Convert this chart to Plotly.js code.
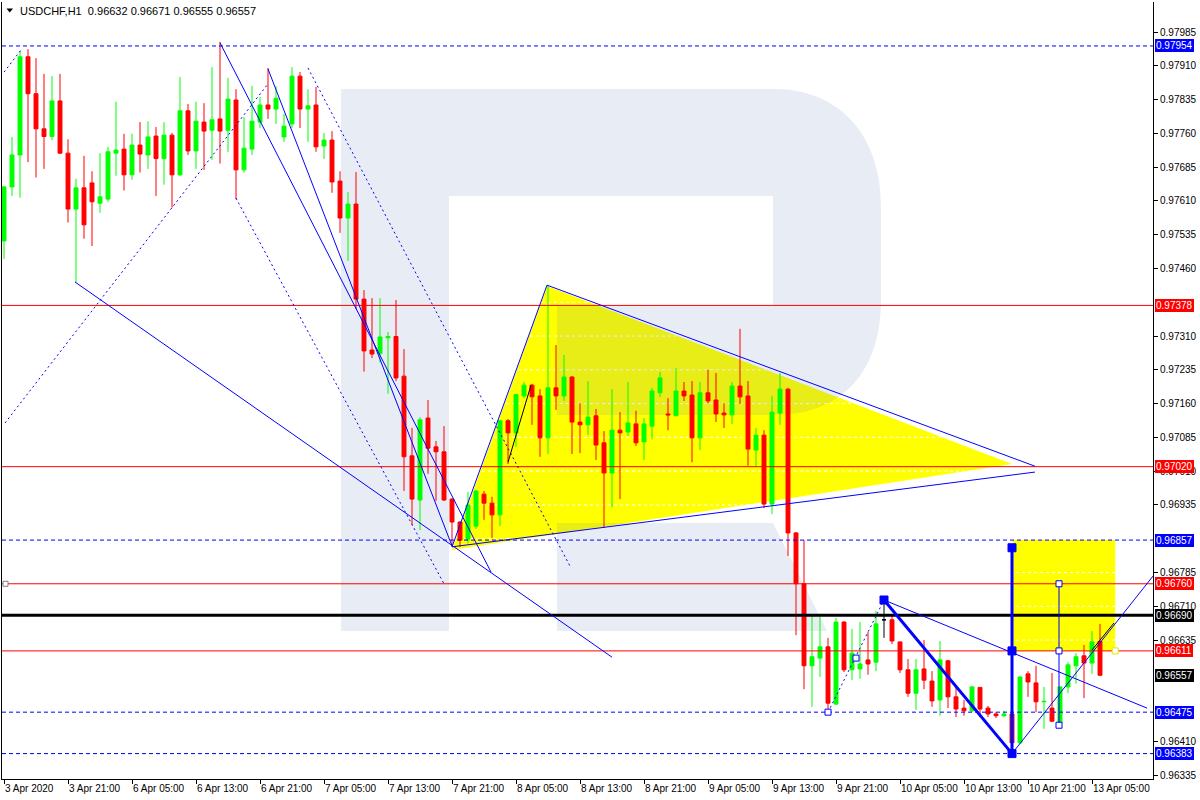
<!DOCTYPE html>
<html>
<head>
<meta charset="utf-8">
<script src="https://cdn.plot.ly/plotly-3.0.1.min.js"></script>
<style>
html,body{margin:0;padding:0;background:#ffffff;}
#chart{width:1200px;height:800px;}
</style>
</head>
<body>
<div id="chart"></div>
<script>
// ---------------- DATA (USDCHF, H1) ----------------
const symbolTitle = 'USDCHF,H1';
const openP = [
0.97521,0.97641,0.97712,0.97930,0.97848,0.97770,0.97753,0.97832,0.97716,0.97592,
0.97639,0.97650,0.97605,0.97614,0.97716,0.97725,0.97668,0.97734,0.97712,0.97754,
0.97704,0.97756,0.97668,0.97810,0.97721,0.97785,0.97767,0.97792,0.97767,0.97834,
0.97679,0.97725,0.97785,0.97823,0.97814,0.97752,0.97781,0.97887,0.97814,0.97823,
0.97732,0.97745,0.97654,0.97572,0.97603,0.97392,0.97279,0.97271,0.97306,0.97309,
0.97221,0.97044,0.96946,0.97128,0.97064,0.97053,0.96948,0.96897,0.96859,0.96888,
0.96959,0.96939,0.96913,0.97122,0.97095,0.97177,0.97201,0.97177,0.97084,0.97195,
0.97177,0.97219,0.97119,0.97113,0.97133,0.97073,0.97006,0.97101,0.97097,0.97115,
0.97075,0.97110,0.97184,0.97137,0.97133,0.97188,0.97179,0.97084,0.97184,0.97168,
0.97139,0.97135,0.97199,0.97177,0.97057,0.97090,0.96937,0.97139,0.97192,0.96873,
0.96760,0.96578,0.96595,0.96620,0.96493,0.96675,0.96569,0.96571,0.96591,0.96586,
0.96680,0.96680,0.96631,0.96569,0.96517,0.96571,0.96544,0.96502,0.96589,0.96509,
0.96484,0.96478,0.96530,0.96484,0.96471,0.96467,0.96471,0.96407,0.96560,0.96540,
0.96498,0.96484,0.96449,0.96531,0.96578,0.96600,0.96584,0.96632];
const highP = [
0.97643,0.97752,0.97943,0.97947,0.97927,0.97892,0.97887,0.97892,0.97747,0.97659,
0.97710,0.97676,0.97716,0.97730,0.97830,0.97759,0.97759,0.97785,0.97787,0.97774,
0.97785,0.97761,0.97885,0.97825,0.97830,0.97827,0.97907,0.97963,0.97883,0.97858,
0.97796,0.97865,0.97841,0.97905,0.97865,0.97803,0.97907,0.97896,0.97858,0.97863,
0.97761,0.97765,0.97676,0.97630,0.97674,0.97412,0.97394,0.97394,0.97319,0.97390,
0.97281,0.97106,0.97130,0.97168,0.97077,0.97110,0.96950,0.96899,0.96964,0.96968,
0.96966,0.96953,0.97124,0.97126,0.97181,0.97208,0.97204,0.97192,0.97423,0.97290,
0.97268,0.97221,0.97161,0.97210,0.97148,0.97099,0.97192,0.97141,0.97208,0.97144,
0.97128,0.97195,0.97230,0.97172,0.97239,0.97208,0.97210,0.97208,0.97235,0.97228,
0.97161,0.97208,0.97326,0.97210,0.97106,0.97101,0.97177,0.97228,0.97195,0.96875,
0.96857,0.96693,0.96693,0.96640,0.96684,0.96677,0.96660,0.96675,0.96653,0.96700,
0.96724,0.96689,0.96631,0.96593,0.96593,0.96635,0.96566,0.96633,0.96591,0.96531,
0.96502,0.96533,0.96531,0.96489,0.96475,0.96478,0.96472,0.96555,0.96566,0.96578,
0.96531,0.96562,0.96532,0.96586,0.96606,0.96624,0.96655,0.96671];
const lowP = [
0.97481,0.97621,0.97617,0.97696,0.97662,0.97681,0.97745,0.97714,0.97562,0.97429,
0.97526,0.97510,0.97584,0.97608,0.97666,0.97633,0.97657,0.97673,0.97681,0.97621,
0.97646,0.97595,0.97665,0.97712,0.97681,0.97679,0.97701,0.97693,0.97719,0.97614,
0.97673,0.97712,0.97772,0.97792,0.97781,0.97741,0.97772,0.97772,0.97741,0.97719,
0.97703,0.97628,0.97539,0.97477,0.97370,0.97231,0.97261,0.97251,0.97182,0.97210,
0.96966,0.96891,0.96879,0.97004,0.96944,0.96944,0.96842,0.96842,0.96850,0.96882,
0.96902,0.96862,0.96888,0.97026,0.97064,0.97172,0.97113,0.97042,0.97048,0.97146,
0.97166,0.97048,0.97050,0.97090,0.97035,0.96884,0.96930,0.96948,0.97088,0.97066,
0.97035,0.97081,0.97175,0.97101,0.97133,0.97166,0.97030,0.97057,0.97161,0.97119,
0.97106,0.97115,0.97159,0.97022,0.97019,0.96928,0.96915,0.97113,0.96822,0.96646,
0.96526,0.96487,0.96553,0.96475,0.96490,0.96564,0.96546,0.96549,0.96558,0.96566,
0.96640,0.96626,0.96562,0.96509,0.96480,0.96526,0.96487,0.96467,0.96484,0.96464,
0.96467,0.96475,0.96464,0.96464,0.96462,0.96464,0.96383,0.96404,0.96509,0.96475,
0.96438,0.96453,0.96446,0.96517,0.96538,0.96506,0.96560,0.96555];
const closeP = [
0.97641,0.97712,0.97930,0.97848,0.97770,0.97753,0.97832,0.97716,0.97592,0.97639,
0.97557,0.97608,0.97619,0.97719,0.97723,0.97668,0.97734,0.97714,0.97752,0.97704,
0.97756,0.97668,0.97810,0.97721,0.97787,0.97765,0.97790,0.97765,0.97836,0.97679,
0.97727,0.97787,0.97823,0.97814,0.97838,0.97776,0.97887,0.97814,0.97821,0.97730,
0.97745,0.97652,0.97572,0.97603,0.97392,0.97277,0.97270,0.97308,0.97309,0.97217,
0.97042,0.96948,0.97124,0.97061,0.97053,0.96946,0.96897,0.96857,0.96935,0.96966,
0.96939,0.96913,0.97122,0.97095,0.97180,0.97201,0.97175,0.97084,0.97195,0.97177,
0.97219,0.97119,0.97113,0.97130,0.97068,0.97006,0.97101,0.97095,0.97117,0.97073,
0.97115,0.97188,0.97217,0.97135,0.97188,0.97177,0.97084,0.97184,0.97166,0.97137,
0.97135,0.97199,0.97175,0.97059,0.97090,0.96937,0.97141,0.97192,0.96873,0.96760,
0.96578,0.96598,0.96620,0.96495,0.96675,0.96569,0.96606,0.96582,0.96582,0.96671,
0.96680,0.96633,0.96569,0.96517,0.96569,0.96546,0.96500,0.96591,0.96509,0.96482,
0.96478,0.96531,0.96482,0.96471,0.96467,0.96471,0.96407,0.96553,0.96542,0.96498,
0.96499,0.96455,0.96531,0.96580,0.96598,0.96584,0.96631,0.96557];

const timeTickBars = [0,8,16,24,32,40,48,56,64,72,80,88,96,104,112,120,128,136];
const timeTickLabels = ['3 Apr 2020','3 Apr 21:00','6 Apr 05:00','6 Apr 13:00','6 Apr 21:00',
  '7 Apr 05:00','7 Apr 13:00','7 Apr 21:00','8 Apr 05:00','8 Apr 13:00','8 Apr 21:00',
  '9 Apr 05:00','9 Apr 13:00','9 Apr 21:00','10 Apr 05:00','10 Apr 13:00','10 Apr 21:00','13 Apr 05:00'];

// price scale grid (every 0.00075) and the tick labels that the chart shows
const priceGrid = [0.96335,0.96410,0.96485,0.96560,0.96635,0.96710,0.96785,0.96860,0.96935,0.97010,
  0.97085,0.97160,0.97235,0.97310,0.97385,0.97460,0.97535,0.97610,0.97685,0.97760,0.97835,0.97910,0.97985];
const priceTickLabels = [0.96335,0.96410,0.96635,0.96710,0.96785,0.96935,0.97010,
  0.97085,0.97160,0.97235,0.97310,0.97460,0.97535,0.97610,0.97685,0.97760,0.97835,0.97910,0.97985];

// Horizontal levels and right-hand price labels
const dashedBlueLevels = [0.97954, 0.96857, 0.96475, 0.96383];
const redLevels = [0.97378, 0.97020, 0.96760, 0.96611];
const blackLevel = 0.96690;
const labelPrices = [0.97954, 0.97378, 0.97020, 0.96857, 0.96760, 0.96690, 0.96611, 0.96557, 0.96475, 0.96383];
const labelColors = ['#0000ff','#ff0000','#ff0000','#0000ff','#ff0000','#000000','#ff0000','#000000','#0000ff','#0000ff'];

// Drawn analysis objects, in (bar index, price)
const dottedLines = [
  [0, 0.97896, 2.125, 0.97945],
  [0.125, 0.97117, 32.875, 0.97867],
  [29, 0.97616, 55, 0.96760],
  [38, 0.97905, 70.875, 0.96795],
  [103, 0.96475, 110, 0.96724]
];
const thinLines = [
  [8.875, 0.97430, 76, 0.96597],
  [27, 0.97961, 60.875, 0.96786],
  [33, 0.97903, 56, 0.96844],
  [56, 0.96842, 67.875, 0.97423],
  [67.875, 0.97423, 128.875, 0.97021],
  [56, 0.96842, 128.875, 0.97008],
  [110, 0.96724, 142.875, 0.96484],
  [126, 0.96383, 143.625, 0.96777],
  [131.875, 0.96760, 131.875, 0.96446]
];
const thickLines = [
  [110, 0.96724, 126, 0.96383],
  [126, 0.96840, 126, 0.96383]
];
const blackLines = [
  [63, 0.97030, 65.875, 0.97201],
  [136, 0.96613, 138.75, 0.96673]
];
const yellowTriangle = [[56, 0.96835], [67.875, 0.97421], [126, 0.97026]];
const yellowBox = [126.1, 0.96611, 138.9, 0.96857];
const filledSquares = [[110, 0.96724], [126, 0.96840], [126, 0.96611], [126, 0.96383]];
const openSquares = [[103, 0.96475], [106.5, 0.96595], [131.875, 0.96760], [131.875, 0.96611], [131.875, 0.96446]];

// ---------------- BUILD ----------------
const FONT = 'Liberation Sans, Arial, DejaVu Sans, sans-serif';
const X_RANGE = [-0.25, 143.625];
const Y_RANGE = [0.963266, 0.980516];
const bars = openP.map((_, i) => i);
const isDoji = bars.map(i => openP[i] === closeP[i]);
const pick = (arr, want) => bars.filter(i => isDoji[i] === want).map(i => arr[i]);

const mainTrace = {
  type: 'candlestick',
  x: pick(bars, false), open: pick(openP, false), high: pick(highP, false),
  low: pick(lowP, false), close: pick(closeP, false),
  increasing: {line: {color: '#00ff00', width: 1}, fillcolor: '#00ff00'},
  decreasing: {line: {color: '#ff0000', width: 1}, fillcolor: '#ff0000'},
  whiskerwidth: 0, hoverinfo: 'skip', showlegend: false
};
const dojiTrace = {
  type: 'candlestick',
  x: pick(bars, true), open: pick(openP, true), high: pick(highP, true),
  low: pick(lowP, true), close: pick(closeP, true),
  increasing: {line: {color: '#000000', width: 1}, fillcolor: '#000000'},
  decreasing: {line: {color: '#000000', width: 1}, fillcolor: '#000000'},
  whiskerwidth: 0, hoverinfo: 'skip', showlegend: false
};

// plot area in pixels
const PL = 2, PR = 1153, PT = 2, PB = 779;
const px = v => (v - PL) / (PR - PL);
const py = v => (PB - v) / (PB - PT);
// pixel -> data units (used only for the decorative watermark)
const dx = v => X_RANGE[0] + (v - PL) / (PR - PL) * (X_RANGE[1] - X_RANGE[0]);
const dy = v => Y_RANGE[1] - (v - PT) / (PB - PT) * (Y_RANGE[1] - Y_RANGE[0]);
const D = (x, y) => dx(x).toFixed(4) + ',' + dy(y).toFixed(6);
const P = (x, y) => px(x).toFixed(4) + ',' + py(y).toFixed(4);

const shapes = [];
// yellow background fills
shapes.push({type: 'path', xref: 'x', yref: 'y', layer: 'below',
  path: 'M ' + yellowTriangle.map(p => p[0] + ',' + p[1]).join(' L ') + ' Z',
  fillcolor: '#ffff00', line: {width: 0}});
shapes.push({type: 'rect', xref: 'x', yref: 'y', layer: 'below',
  x0: yellowBox[0], y0: yellowBox[1], x1: yellowBox[2], y1: yellowBox[3],
  fillcolor: '#ffff00', line: {width: 0}});
// white dashed grid (only visible on the yellow fills)
priceGrid.forEach(v => shapes.push({type: 'line', xref: 'x', yref: 'y', x0: X_RANGE[0], x1: X_RANGE[1], y0: v, y1: v,
  layer: 'below', line: {color: '#ffffff', width: 1, dash: '3px,3px'}}));

// watermark "R" logo (semi-transparent, above fills and grid, below candles)
const wmColor = 'rgba(83,113,173,0.135)';
shapes.push({type: 'path', xref: 'x', yref: 'y', layer: 'below',
  path: 'M ' + D(341, 89) + ' L ' + D(774, 89) +
        ' C ' + D(842, 89) + ' ' + D(881, 138) + ' ' + D(881, 206) +
        ' L ' + D(881, 300) +
        ' C ' + D(881, 372) + ' ' + D(842, 415) + ' ' + D(774, 415) +
        ' L ' + D(557, 415) + ' L ' + D(557, 306) + ' L ' + D(773, 306) +
        ' L ' + D(773, 196) + ' L ' + D(449, 196) + ' L ' + D(449, 631) +
        ' L ' + D(341, 631) + ' Z',
  fillcolor: wmColor, line: {width: 0}});
shapes.push({type: 'path', xref: 'x', yref: 'y', layer: 'below',
  path: 'M ' + D(557, 523) + ' L ' + D(773, 523) + ' L ' + D(827, 631) + ' L ' + D(557, 631) + ' Z',
  fillcolor: wmColor, line: {width: 0}});

// horizontal levels
dashedBlueLevels.forEach(v => shapes.push({type: 'line', xref: 'paper', yref: 'y', x0: 0, x1: 1, y0: v, y1: v,
  layer: 'above', line: {color: '#0000ff', width: 1, dash: '4px,3px'}}));
redLevels.forEach(v => shapes.push({type: 'line', xref: 'paper', yref: 'y', x0: 0, x1: 1, y0: v, y1: v,
  layer: 'above', line: {color: '#ff0000', width: 1}}));
shapes.push({type: 'line', xref: 'paper', yref: 'y', x0: 0, x1: 1, y0: blackLevel, y1: blackLevel,
  layer: 'above', line: {color: '#000000', width: 3}});

// trend lines
const addLines = (list, style) => list.forEach(l => shapes.push({type: 'line', xref: 'x', yref: 'y',
  x0: l[0], y0: l[1], x1: l[2], y1: l[3], layer: 'above', line: style}));
addLines(dottedLines, {color: '#0000ff', width: 1, dash: '2px,3px'});
addLines(thinLines, {color: '#0000ff', width: 1});
addLines(thickLines, {color: '#0000ff', width: 3});
addLines(blackLines, {color: '#000000', width: 1});

// anchor squares
filledSquares.forEach(s => shapes.push({type: 'rect', xref: 'x', yref: 'y', xsizemode: 'pixel', ysizemode: 'pixel',
  xanchor: s[0], yanchor: s[1], x0: -4, x1: 4, y0: -4, y1: 4, layer: 'above',
  fillcolor: '#0000ff', line: {color: '#0000ff', width: 1}}));
openSquares.forEach(s => shapes.push({type: 'rect', xref: 'x', yref: 'y', xsizemode: 'pixel', ysizemode: 'pixel',
  xanchor: s[0], yanchor: s[1], x0: -3, x1: 3, y0: -3, y1: 3, layer: 'above',
  fillcolor: '#ffffff', line: {color: '#0000ff', width: 1}}));
shapes.push({type: 'rect', xref: 'x', yref: 'y', xsizemode: 'pixel', ysizemode: 'pixel',
  xanchor: yellowBox[2], yanchor: yellowBox[1], x0: -3, x1: 3, y0: -3, y1: 3, layer: 'above',
  fillcolor: '#ffffff', line: {color: '#e6e600', width: 1}});
shapes.push({type: 'rect', xref: 'paper', yref: 'y', xsizemode: 'pixel', ysizemode: 'pixel',
  xanchor: 0, yanchor: redLevels[2], x0: 1, x1: 6, y0: -2.5, y1: 2.5, layer: 'above',
  fillcolor: '#ffffff', line: {color: '#808080', width: 1}});
// header triangle
shapes.push({type: 'path', xref: 'paper', yref: 'paper', layer: 'above',
  path: 'M ' + P(6.5, 8.5) + ' L ' + P(13, 8.5) + ' L ' + P(9.75, 12.5) + ' Z',
  fillcolor: '#000000', line: {width: 0}});

const annotations = [];
labelPrices.forEach((v, i) => annotations.push({
  xref: 'paper', x: 1, xanchor: 'left', xshift: 2, yref: 'y', y: v, yanchor: 'middle',
  text: v.toFixed(5), showarrow: false, bgcolor: labelColors[i], borderpad: 1, borderwidth: 0,
  font: {family: FONT, size: 10, color: '#ffffff'}
}));
const last = openP.length - 1;
annotations.push({
  xref: 'paper', x: px(18), xanchor: 'left', yref: 'paper', y: py(10.5), yanchor: 'middle',
  text: symbolTitle + '  ' + [openP[last], highP[last], lowP[last], closeP[last]].map(v => v.toFixed(5)).join(' '),
  showarrow: false, font: {family: FONT, size: 11, color: '#000000'}
});

const layout = {
  width: 1200, height: 800,
  margin: {l: PL, r: 1200 - PR, t: PT, b: 800 - PB, pad: 0},
  paper_bgcolor: '#ffffff', plot_bgcolor: '#ffffff',
  showlegend: false, hovermode: false,
  boxgap: 0.3, boxgroupgap: 0.3,
  font: {family: FONT, size: 10, color: '#000000'},
  xaxis: {
    type: 'linear', range: X_RANGE, fixedrange: true,
    rangeslider: {visible: false},
    tickmode: 'array', tickvals: timeTickBars, ticktext: timeTickLabels,
    tickangle: 0,
    ticks: 'outside', ticklen: 4, tickcolor: '#000000', tickwidth: 1,
    ticklabelposition: 'outside right',
    showgrid: false, zeroline: false,
    showline: true, linecolor: '#000000', linewidth: 1,
    tickfont: {family: FONT, size: 10, color: '#000000'}
  },
  yaxis: {
    side: 'right', range: Y_RANGE, fixedrange: true,
    tickmode: 'array', tickvals: priceTickLabels, ticktext: priceTickLabels.map(v => v.toFixed(5)),
    ticks: 'outside', ticklen: 4, tickcolor: '#000000', tickwidth: 1,
    showgrid: false,
    zeroline: false, showline: true, mirror: true, linecolor: '#000000', linewidth: 1,
    tickfont: {family: FONT, size: 10, color: '#000000'}
  },
  shapes: shapes,
  annotations: annotations
};

Plotly.newPlot('chart', [mainTrace, dojiTrace], layout, {displayModeBar: false, staticPlot: true});
</script>
</body>
</html>
